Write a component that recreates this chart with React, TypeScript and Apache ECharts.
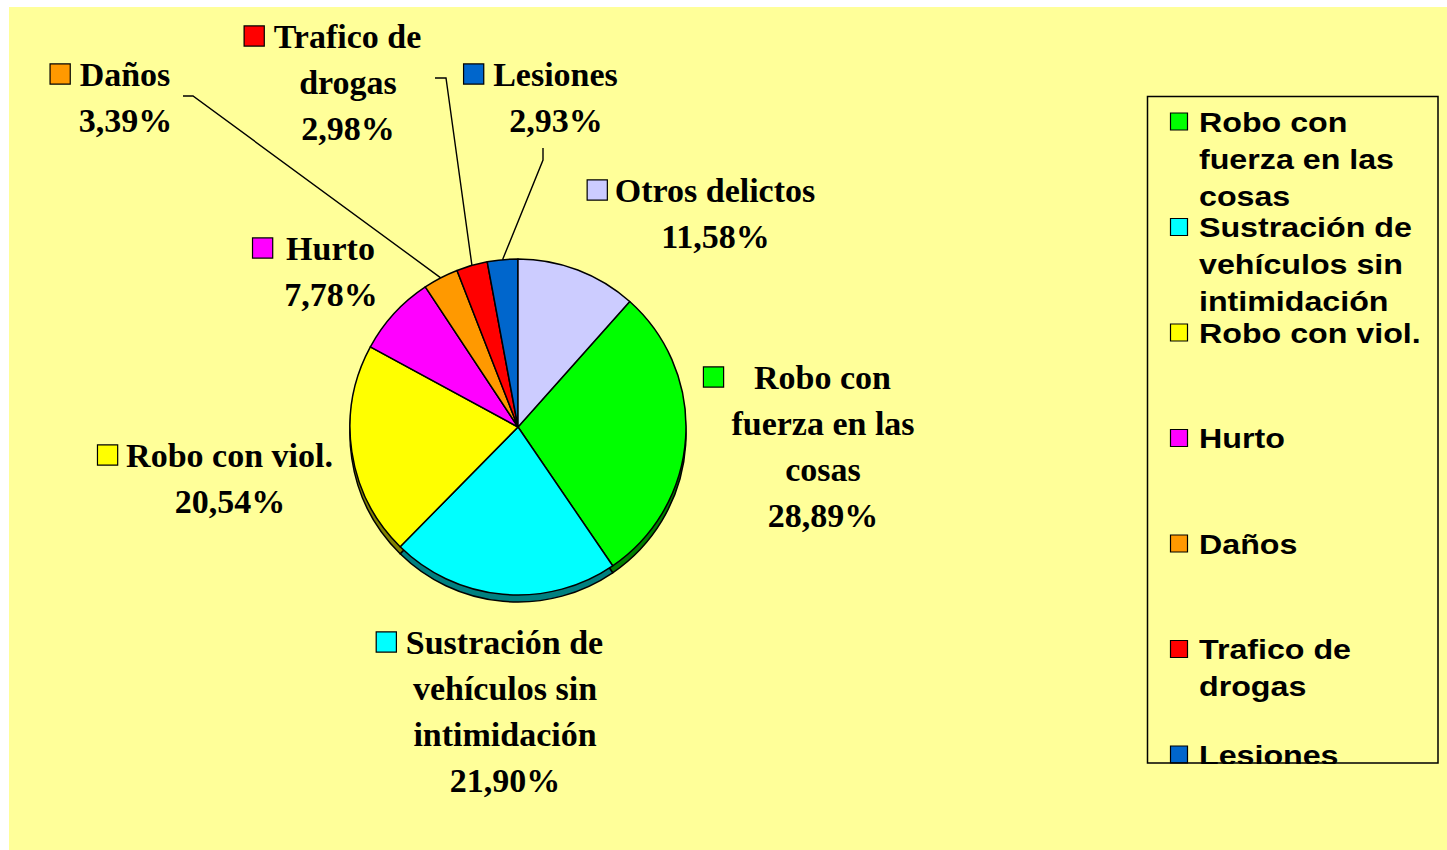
import React, { useEffect, useRef } from 'react';
import * as echarts from 'echarts';

// ---- data ----
const categories = [
  'Robo con\nfuerza en las\ncosas',
  'Sustración de\nvehículos sin\nintimidación',
  'Robo con viol.',
  'Hurto',
  'Daños',
  'Trafico de\ndrogas',
  'Lesiones',
  'Otros delictos',
];
const percentages = [28.89, 21.9, 20.54, 7.78, 3.39, 2.98, 2.93, 11.58];
const sliceColors = ['#00FF00', '#00FFFF', '#FFFF00', '#FF00FF', '#FF9900', '#FF0000', '#0066CC', '#CCCCFF'];
const rimColors = ['#008000', '#008080', '#808000', '#800080', '#996600', '#800000', '#003366', '#666699'];
const legendVisibleCount = 7;

// ---- layout / style ----
const CX = 518;
const CY = 427;
const R = 168;
const DEPTH = 7;
const BG = '#FFFF99';
const labelAnchors: number[][] = [
  [823, 377], [505, 642], [230, 455], [331, 248], [125.5, 74], [348, 36], [556, 74], [715.5, 190],
];
const keyGaps = [31, 10, 9, 14, 10, 10, 10, 8];
const leaderEnds: Record<number, number[][]> = {
  4: [[193, 96], [183, 96]],
  5: [[446, 78], [435, 78]],
  6: [[543, 160], [543, 148]],
};
const LEG_X = 1170;
const LEG_TEXT_X = 1199;
const LEG_Y0 = 103.5;
const LEG_STEP = 105.5;

function fmtPct(v: number) {
  return v.toFixed(2).replace('.', ',') + '%';
}

export default function App() {
  const ref = useRef<HTMLDivElement>(null);
  useEffect(() => {
    document.body.style.margin = '0';
    if (!ref.current) return;
    const chart = echarts.init(ref.current, null, { renderer: 'svg' });

    const rich: any = {
      t: { fontFamily: 'Liberation Serif', fontWeight: 'bold', fontSize: 34, lineHeight: 46, color: '#000' },
    };
    sliceColors.forEach((c, i) => {
      rich['k' + i] = { width: 19, height: 19, backgroundColor: c, borderColor: '#000', borderWidth: 1.2, lineHeight: 46 };
      rich['g' + i] = { width: keyGaps[i], lineHeight: 46 };
      rich['s' + i] = { width: 20 + keyGaps[i], lineHeight: 46 };
    });

    const startAngle = 90 - (percentages[7] / 100) * 360;

    const legendEls: any[] = [];
    categories.slice(0, legendVisibleCount).forEach((name, i) => {
      const top = LEG_Y0 + i * LEG_STEP;
      legendEls.push({
        type: 'rect',
        z: 10,
        shape: { x: LEG_X + 0.5, y: top + 9.5, width: 17, height: 17 },
        style: { fill: sliceColors[i], stroke: '#000', lineWidth: 1.2 },
      });
      legendEls.push({
        type: 'text',
        z: 10,
        x: LEG_TEXT_X,
        y: top,
        scaleX: 1.15,
        style: {
          text: name,
          fontFamily: 'Liberation Sans',
          fontWeight: 'bold',
          fontSize: 28,
          lineHeight: 37,
          fill: '#000',
          verticalAlign: 'top',
          align: 'left',
        },
      });
    });

    chart.setOption({
      animation: false,
      backgroundColor: '#ffffff',
      graphic: [
        { type: 'rect', z: 0, silent: true, shape: { x: 9, y: 7, width: 1438, height: 843 }, style: { fill: BG } },
        ...legendEls,
        { type: 'rect', z: 11, silent: true, shape: { x: 1148, y: 764, width: 289, height: 30 }, style: { fill: BG } },
        {
          type: 'rect', z: 12, silent: true,
          shape: { x: 1147.5, y: 96.5, width: 290.5, height: 666.5 },
          style: { fill: 'none', stroke: '#000', lineWidth: 1.5 },
        },
      ],
      series: [
        {
          type: 'pie',
          z: 1,
          silent: true,
          center: [CX, CY + DEPTH],
          radius: R,
          startAngle,
          label: { show: false },
          labelLine: { show: false },
          itemStyle: { borderColor: '#000', borderWidth: 1.5 },
          data: categories.map((name, i) => ({
            name,
            value: percentages[i],
            itemStyle: { color: rimColors[i] },
          })),
        },
        {
          type: 'pie',
          z: 2,
          center: [CX, CY],
          radius: R,
          startAngle,
          avoidLabelOverlap: false,
          minShowLabelAngle: 0,
          itemStyle: { borderColor: '#000', borderWidth: 1.5 },
          label: {
            show: true,
            position: 'outside',
            align: 'center',
            rich,
            formatter: (p: any) => {
              const i = p.dataIndex;
              const lines = String(p.name).split('\n');
              const out = lines.map((l: string, j: number) =>
                j === 0 ? `{k${i}|}{g${i}|}{t|${l}}{s${i}|}` : `{t|${l}}`
              );
              out.push(`{t|${fmtPct(p.value)}}`);
              return out.join('\n');
            },
          },
          labelLine: {
            show: false,
            length: 10,
            length2: 10,
            lineStyle: { color: '#000', width: 1.4 },
          },
          labelLayout: (params: any) => {
            const i = params.dataIndex;
            const [ax, ay] = labelAnchors[i];
            const res: any = { x: ax, y: ay - 23, align: 'center', verticalAlign: 'top' };
            const ends = leaderEnds[i];
            if (ends && params.labelLinePoints) {
              res.labelLinePoints = [params.labelLinePoints[0], ...ends];
            }
            return res;
          },
          data: categories.map((name, i) => ({
            name,
            value: percentages[i],
            itemStyle: { color: sliceColors[i] },
            labelLine: { show: !!leaderEnds[i] },
          })),
        },
      ],
    });
    return () => chart.dispose();
  }, []);
  return <div ref={ref} style={{ width: 1447, height: 850 }} />;
}
